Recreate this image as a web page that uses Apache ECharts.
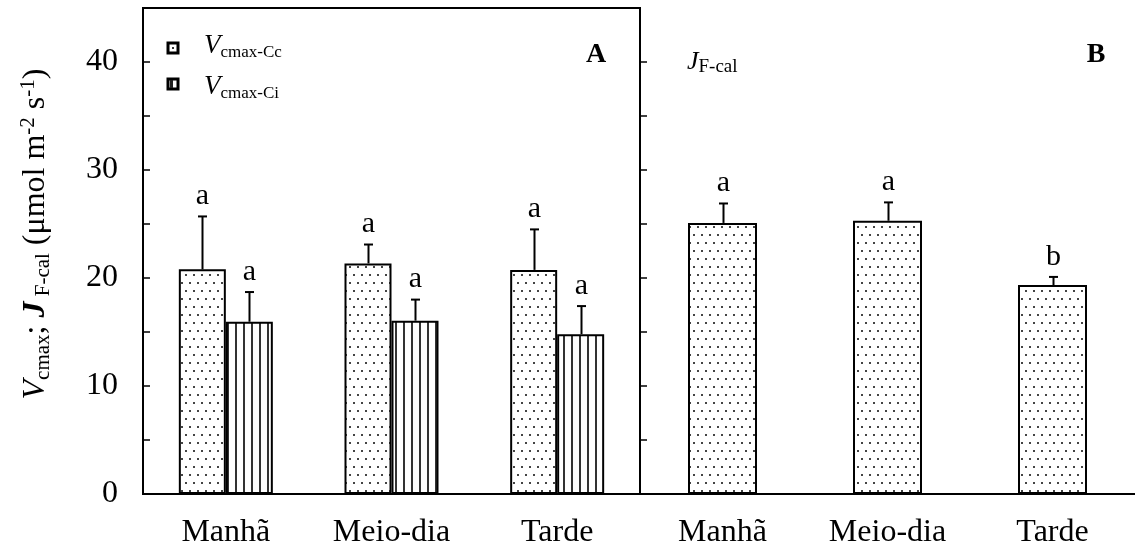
<!DOCTYPE html>
<html>
<head>
<meta charset="utf-8">
<script src="https://cdn.jsdelivr.net/npm/echarts@6/dist/echarts.min.js"></script>
<style>
  html, body { margin: 0; padding: 0; background: #fff; }
  #chart { width: 1135px; height: 558px; }
</style>
</head>
<body>
<div id="chart"></div>
<script>
// Period of the day
const categories = ['Manhã', 'Meio-dia', 'Tarde'];

// Panel A: Vcmax estimated from Cc and from Ci (mean and upper error)
const vcmaxCc = [20.8, 21.35, 20.75];
const vcmaxCcErr = [4.9, 1.75, 3.75];
const vcmaxCcLetters = ['a', 'a', 'a'];

const vcmaxCi = [15.95, 16.05, 14.8];
const vcmaxCiErr = [2.75, 1.95, 2.6];
const vcmaxCiLetters = ['a', 'a', 'a'];

// Panel B: JF-cal
const jFcal = [25.1, 25.3, 19.35];
const jFcalErr = [1.8, 1.7, 0.75];
const jFcalLetters = ['a', 'a', 'b'];

// y ticks: labelled values and all tick marks
const yTickLabels = [0, 10, 20, 30, 40];
const yTickMarks = [0, 5, 10, 15, 20, 25, 30, 35, 40];

const FONT = '"Liberation Serif", "Times New Roman", serif';

// Fill patterns
function dotCanvas() {
  const c = document.createElement('canvas');
  c.width = 8; c.height = 16;
  const g = c.getContext('2d');
  g.fillStyle = '#fff';
  g.fillRect(0, 0, 8, 16);
  g.fillStyle = '#444';
  g.fillRect(1, 2, 2, 2);
  g.fillRect(5, 10, 2, 2);
  return c;
}
function stripeCanvas() {
  const c = document.createElement('canvas');
  c.width = 8; c.height = 8;
  const g = c.getContext('2d');
  g.fillStyle = '#fff';
  g.fillRect(0, 0, 8, 8);
  g.fillStyle = '#333';
  g.fillRect(3, 0, 2, 8);
  return c;
}
const dotFill = { image: dotCanvas(), repeat: 'repeat' };
const stripeFill = { image: stripeCanvas(), repeat: 'repeat' };

const BAR_A = 47;
const BAR_B = 69;

function barSeries(data, fill, xi, width) {
  return {
    type: 'bar',
    xAxisIndex: xi, yAxisIndex: xi,
    data: data,
    barWidth: width,
    barGap: '0%',
    silent: true,
    itemStyle: { color: fill, borderColor: '#000', borderWidth: 2 },
    z: 2
  };
}

// Upper error bar with significance letter above it
function errSeries(values, errs, letters, xi, offset) {
  return {
    type: 'custom',
    xAxisIndex: xi, yAxisIndex: xi,
    silent: true,
    z: 5,
    data: values.map((v, i) => [i, v, errs[i]]),
    renderItem: function (params, api) {
      const i = api.value(0);
      const v = api.value(1);
      const e = api.value(2);
      const base = api.coord([i, v]);
      const top = api.coord([i, v + e]);
      const x = Math.round(base[0] + offset) + 0.5;
      const ls = { stroke: '#000', lineWidth: 2 };
      return {
        type: 'group',
        children: [
          { type: 'line', shape: { x1: x, y1: base[1], x2: x, y2: top[1] }, style: ls },
          { type: 'line', shape: { x1: x - 4.5, y1: top[1], x2: x + 4.5, y2: top[1] }, style: ls },
          {
            type: 'text',
            x: x, y: top[1] - 5,
            style: {
              text: letters[params.dataIndex],
              font: '30px ' + FONT,
              fill: '#000',
              align: 'center',
              verticalAlign: 'bottom'
            }
          }
        ]
      };
    }
  };
}

const axisLineStyle = { color: '#000', width: 2 };

function xAxisFor(gi) {
  return {
    gridIndex: gi,
    type: 'category',
    data: categories,
    axisLine: { show: true, lineStyle: axisLineStyle },
    axisTick: { show: false },
    axisLabel: { color: '#000', fontFamily: FONT, fontSize: 32, margin: 23 },
    splitLine: { show: false }
  };
}
function yAxisFor(gi, showLabels) {
  return {
    gridIndex: gi,
    type: 'value',
    min: 0, max: 45, interval: 5,
    axisLine: { show: true, lineStyle: axisLineStyle },
    axisTick: {
      show: true, inside: true, length: 7,
      customValues: yTickMarks,
      lineStyle: { color: '#000', width: 1.5 }
    },
    axisLabel: {
      show: showLabels,
      customValues: yTickLabels,
      color: '#000', fontFamily: FONT, fontSize: 32, margin: 25
    },
    splitLine: { show: false }
  };
}

const chart = echarts.init(document.getElementById('chart'), null, { renderer: 'canvas' });

const option = {
  animation: false,
  backgroundColor: '#fff',
  grid: [
    { left: 143, top: 8, width: 497, bottom: 64, show: true, borderColor: '#000', borderWidth: 2, backgroundColor: 'transparent' },
    { left: 640, top: 8, right: 0, bottom: 64 }
  ],
  xAxis: [xAxisFor(0), xAxisFor(1)],
  yAxis: [yAxisFor(0, true), yAxisFor(1, false)],
  series: [
    barSeries(vcmaxCc, dotFill, 0, BAR_A),
    barSeries(vcmaxCi, stripeFill, 0, BAR_A),
    errSeries(vcmaxCc, vcmaxCcErr, vcmaxCcLetters, 0, -BAR_A / 2),
    errSeries(vcmaxCi, vcmaxCiErr, vcmaxCiLetters, 0, BAR_A / 2),
    barSeries(jFcal, dotFill, 1, BAR_B),
    errSeries(jFcal, jFcalErr, jFcalLetters, 1, 0)
  ],
  graphic: [
    // y-axis title
    {
      type: 'text',
      x: 36, y: 234,
      rotation: Math.PI / 2,
      style: {
        text: '{v|V}{s|cmax}{m|; }{j|J}{s| F-cal}{m| (μmol m}{p|-2}{m| s}{p|-1}{m|)}',
        align: 'center',
        verticalAlign: 'middle',
        fill: '#000',
        rich: {
          v: { fontFamily: FONT, fontSize: 32, fontStyle: 'italic', lineHeight: 36, verticalAlign: 'middle' },
          j: { fontFamily: FONT, fontSize: 32, fontStyle: 'italic', fontWeight: 'bold', lineHeight: 36, verticalAlign: 'middle' },
          m: { fontFamily: FONT, fontSize: 32, lineHeight: 36, verticalAlign: 'middle' },
          s: { fontFamily: FONT, fontSize: 21, lineHeight: 21, verticalAlign: 'bottom' },
          p: { fontFamily: FONT, fontSize: 21, lineHeight: 21, verticalAlign: 'top' }
        }
      }
    },
    // legend markers
    { type: 'rect', shape: { x: 168, y: 43, width: 10, height: 10 }, style: { fill: '#fff', stroke: '#000', lineWidth: 3 } },
    { type: 'rect', shape: { x: 172, y: 47, width: 2, height: 2 }, style: { fill: '#333' } },
    { type: 'rect', shape: { x: 168, y: 79, width: 10, height: 10 }, style: { fill: '#fff', stroke: '#000', lineWidth: 3 } },
    { type: 'rect', shape: { x: 170, y: 80, width: 3, height: 8 }, style: { fill: '#222' } },
    {
      type: 'text', x: 204, y: 46,
      style: {
        text: '{v|V}{s|cmax-Cc}', verticalAlign: 'middle', fill: '#000',
        rich: {
          v: { fontFamily: FONT, fontSize: 27, fontStyle: 'italic', lineHeight: 30, verticalAlign: 'middle' },
          s: { fontFamily: FONT, fontSize: 17, lineHeight: 17, verticalAlign: 'bottom' }
        }
      }
    },
    {
      type: 'text', x: 204, y: 87,
      style: {
        text: '{v|V}{s|cmax-Ci}', verticalAlign: 'middle', fill: '#000',
        rich: {
          v: { fontFamily: FONT, fontSize: 27, fontStyle: 'italic', lineHeight: 30, verticalAlign: 'middle' },
          s: { fontFamily: FONT, fontSize: 17, lineHeight: 17, verticalAlign: 'bottom' }
        }
      }
    },
    // panel B series label
    {
      type: 'text', x: 687, y: 62,
      style: {
        text: '{v|J}{s|F-cal}', verticalAlign: 'middle', fill: '#000',
        rich: {
          v: { fontFamily: FONT, fontSize: 26, fontStyle: 'italic', lineHeight: 30, verticalAlign: 'middle' },
          s: { fontFamily: FONT, fontSize: 19, lineHeight: 19, verticalAlign: 'bottom' }
        }
      }
    },
    // panel letters
    { type: 'text', x: 596, y: 55, style: { text: 'A', font: 'bold 28px ' + FONT, fill: '#000', align: 'center', verticalAlign: 'middle' } },
    { type: 'text', x: 1096, y: 55, style: { text: 'B', font: 'bold 28px ' + FONT, fill: '#000', align: 'center', verticalAlign: 'middle' } }
  ]
};

chart.setOption(option);
</script>
</body>
</html>
